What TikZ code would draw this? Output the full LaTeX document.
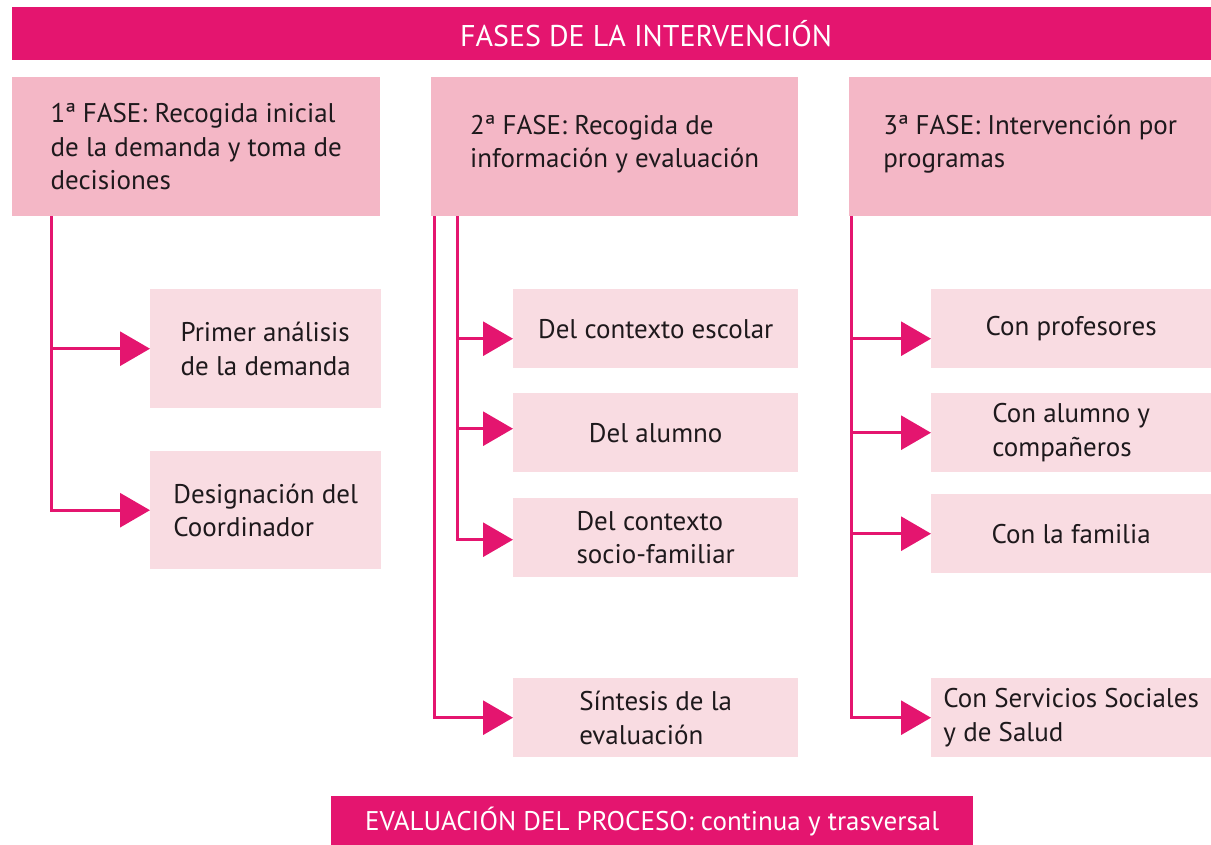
\documentclass[tikz,border=0pt]{standalone}
\usepackage{fontspec}
\setmainfont{PT Sans}
\usetikzlibrary{arrows.meta}

\definecolor{fucsia}{RGB}{228,21,111}
\definecolor{rosaFase}{RGB}{244,183,198}
\definecolor{rosaClaro}{RGB}{249,220,226}
\definecolor{tinta}{RGB}{30,25,28}

\tikzset{
    texto/.style={font=\fontsize{27}{33.5}\selectfont},
    titulo/.style={texto, text=white, inner sep=0pt},
    fase/.style={texto, text=tinta, fill=rosaFase, align=left, anchor=north west,
        minimum height=139pt, inner sep=0pt},
    sub/.style={texto, text=tinta, fill=rosaClaro, align=left, anchor=north west,
        minimum height=79pt, inner sep=0pt},
    conn/.style={draw=fucsia, line width=3pt, -{Triangle[length=30pt, width=34pt]}},
}

\begin{document}
\begin{tikzpicture}[x=1pt, y=-1pt]
    \useasboundingbox (0,0) rectangle (1211,844);

    % titulo
    \fill[fucsia] (12,7) rectangle (1211,60);
    \node[titulo, font=\fontsize{30}{36}\selectfont] (tit) at (646,33.5) {FASES DE LA INTERVENCIÓN};

    % fases
    \node[fase, minimum width=368pt] (f1) at (12,77) {1ª FASE: Recogida inicial\\de la demanda y toma de\\decisiones};
    \node[fase, minimum width=367pt] (f2) at (431,77) {2ª FASE: Recogida de\\información y evaluación\\[-23pt]};
    \node[fase, minimum width=362pt] (f3) at (849,77) {3ª FASE: Intervención por\\programas\\[-23pt]};

    % columna 1
    \node[sub, minimum width=231pt, minimum height=119pt] (s11) at (150,289) {Primer análisis\\de la demanda};
    \node[sub, minimum width=231pt, minimum height=118pt] (s12) at (150,451) {Designación del\\Coordinador};

    % columna 2
    \node[sub, minimum width=285pt] (s21) at (513,289) {Del contexto escolar};
    \node[sub, minimum width=285pt] (s22) at (513,393) {Del alumno};
    \node[sub, minimum width=285pt] (s23) at (513,498) {Del contexto\\socio-familiar};
    \node[sub, minimum width=285pt] (s24) at (513,678) {Síntesis de la\\evaluación};

    % columna 3
    \node[sub, minimum width=280pt] (s31) at (931,289) {Con profesores};
    \node[sub, minimum width=280pt] (s32) at (931,393) {Con alumno y\\compañeros};
    \node[sub, minimum width=280pt] (s33) at (931,494) {Con la familia};
    \node[sub, minimum width=280pt] (s34) at (931,678) {Con Servicios Sociales\\y de Salud};

    % salidas de las fases
    \coordinate (r1) at ([xshift=39pt]f1.south west);
    \coordinate (r2a) at ([xshift=3pt]f2.south west);
    \coordinate (r2b) at ([xshift=26pt]f2.south west);
    \coordinate (r3) at ([xshift=2pt]f3.south west);

    % flechas
    \draw[conn] (r1) |- (s11.west);
    \draw[conn] (r1) |- (s12.west);
    \draw[conn] (r2b) |- ([yshift=-10pt]s21.west);
    \draw[conn] (r2b) |- ([yshift=4pt]s22.west);
    \draw[conn] (r2b) |- ([yshift=-2pt]s23.west);
    \draw[conn] (r2a) |- (s24.west);
    \draw[conn] (r3) |- ([yshift=-10pt]s31.west);
    \draw[conn] (r3) |- (s32.west);
    \draw[conn] (r3) |- (s33.west);
    \draw[conn] (r3) |- (s34.west);

    % evaluacion
    \node[titulo, fill=fucsia, minimum width=642pt, minimum height=50pt, anchor=north west] (eval) at (331,796) {EVALUACIÓN DEL PROCESO: continua y trasversal};
\end{tikzpicture}
\end{document}
